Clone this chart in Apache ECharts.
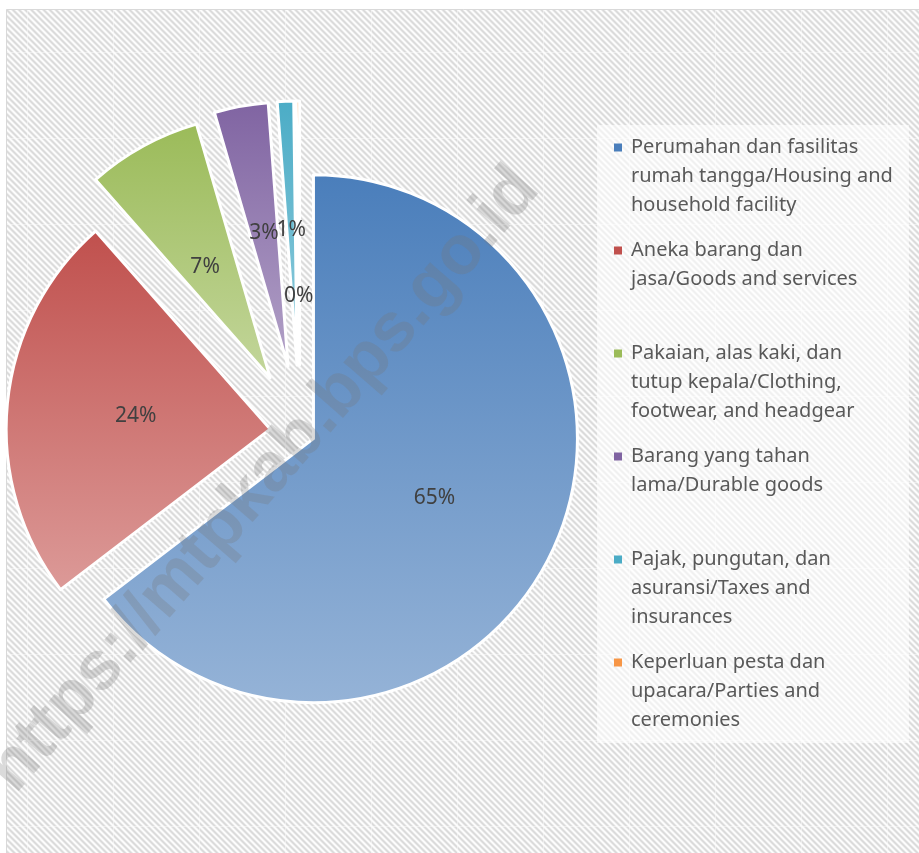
<!DOCTYPE html>
<html>
<head>
<meta charset="utf-8">
<title>Pie</title>
<script src="https://cdn.jsdelivr.net/npm/echarts@6/dist/echarts.min.js"></script>
<style>
    html, body { margin: 0; padding: 0; background: #fff; }
    #chart { width: 919px; height: 853px; }
</style>
</head>
<body>
<div id="chart"></div>
<script>
// 数据
var categories = [
    'Perumahan dan fasilitas\nrumah tangga/Housing and\nhousehold facility',
    'Aneka barang dan\njasa/Goods and services',
    'Pakaian, alas kaki, dan\ntutup kepala/Clothing,\nfootwear, and headgear',
    'Barang yang tahan\nlama/Durable goods',
    'Pajak, pungutan, dan\nasuransi/Taxes and\ninsurances',
    'Keperluan pesta dan\nupacara/Parties and\nceremonies'
];
var values = [64.6, 23.9, 7.0, 3.3, 1.0, 0.2];
var watermark = 'https://mtpkab.bps.go.id';

// 样式
var colorsTop = ['#4a7ebb', '#c0504d', '#9bbb59', '#8064a2', '#4bacc6', '#f79646'];
var colorsBottom = ['#95b3d7', '#dc9a98', '#c3d69b', '#b2a1c7', '#93cddd', '#fac090'];
var explode = [15, 30, 62, 67, 67, 67];
var FONT = '"Noto Sans", "Open Sans", sans-serif';

// 斜纹背景
function stripeTile() {
    var size = 86, period = size / 14;
    var c = document.createElement('canvas');
    c.width = size;
    c.height = size;
    var ctx = c.getContext('2d');
    var img = ctx.createImageData(size, size);
    for (var y = 0; y < size; y++) {
        for (var x = 0; x < size; x++) {
            var v = 236 + 19 * Math.cos(2 * Math.PI * (x - y) / period);
            if (x === 27 || y === 52) v = v + (252 - v) * 0.5;
            var i = (y * size + x) * 4;
            img.data[i] = img.data[i + 1] = img.data[i + 2] = v;
            img.data[i + 3] = 255;
        }
    }
    ctx.putImageData(img, 0, 0);
    return c;
}

var rich = {
    t: { color: '#595959', fontSize: 20, fontFamily: FONT, lineHeight: 29, padding: [0, 0, 0, 9] },
    t2: { color: '#595959', fontSize: 20, fontFamily: FONT, lineHeight: 29, padding: [0, 0, 0, 17] }
};
colorsTop.forEach(function (c, i) {
    rich['m' + i] = { width: 8, height: 8, backgroundColor: c };
});

// 每个扇区一个系列，分别设置分离距离
var series = values.map(function (v, k) {
    return {
        type: 'pie',
        center: [300, 432],
        radius: [0, 264],
        startAngle: 90,
        clockwise: true,
        silent: true,
        avoidLabelOverlap: false,
        selectedMode: 'single',
        selectedOffset: explode[k],
        emphasis: { disabled: true },
        itemStyle: { borderColor: '#fff', borderWidth: 3 },
        label: {
            show: false,
            position: 'inner',
            color: '#404040',
            fontSize: 21,
            fontFamily: FONT,
            formatter: function (p) { return Math.round(p.percent) + '%'; }
        },
        labelLine: { show: false },
        labelLayout: k === 5 ? { dy: 66 } : (k === 2 ? { dy: 8 } : undefined),
        data: values.map(function (val, i) {
            var d = { name: categories[i], value: val };
            if (i === k) {
                d.selected = true;
                d.itemStyle = {
                    color: new echarts.graphic.LinearGradient(0, 0, 0, 1, [
                        { offset: 0, color: colorsTop[i] },
                        { offset: 1, color: colorsBottom[i] }
                    ])
                };
                d.label = { show: true };
            } else {
                d.itemStyle = { color: 'rgba(0,0,0,0)', borderWidth: 0 };
            }
            return d;
        })
    };
});

var myChart = echarts.init(document.getElementById('chart'));
myChart.setOption({
    animation: false,
    backgroundColor: '#fff',
    graphic: [
        {
            type: 'rect',
            z: -10,
            shape: { x: 6.5, y: 9.5, width: 930, height: 860 },
            style: { fill: { image: stripeTile(), repeat: 'repeat' }, stroke: '#d9d9d9', lineWidth: 1 }
        },
        {
            type: 'text',
            z: 100,
            x: 264,
            y: 480,
            rotation: 49 * Math.PI / 180,
            style: {
                text: watermark,
                font: 'bold 69px "Liberation Sans", Arial, sans-serif',
                fill: 'rgba(120,120,120,0.27)',
                align: 'center',
                verticalAlign: 'middle',
                textAlign: 'center',
                textVerticalAlign: 'middle'
            }
        }
    ],
    legend: {
        orient: 'vertical',
        left: 597,
        top: 125,
        padding: [8, 16, 8, 11],
        itemGap: 16,
        itemWidth: 0,
        itemHeight: 0,
        icon: 'rect',
        selectedMode: false,
        backgroundColor: 'rgba(255,255,255,0.6)',
        data: categories,
        formatter: function (name) {
            var i = categories.indexOf(name);
            var lines = name.split('\n');
            while (lines.length < 3) lines.push(' ');
            return lines.map(function (l, j) {
                return j === 0 ? '{m' + i + '|}{t|' + l + '}' : '{t2|' + l + '}';
            }).join('\n');
        },
        textStyle: { color: '#595959', fontSize: 20, fontFamily: FONT, lineHeight: 29, rich: rich }
    },
    series: series
});
</script>
</body>
</html>
